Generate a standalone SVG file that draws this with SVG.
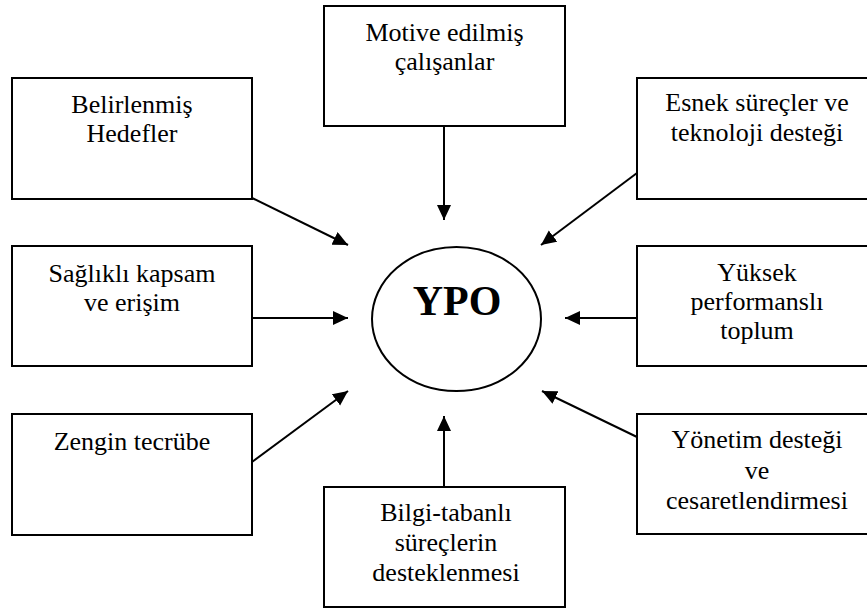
<svg xmlns="http://www.w3.org/2000/svg" width="867" height="610" viewBox="0 0 867 610">
  <style>
    .box { fill: #ffffff; stroke: #000000; stroke-width: 2; }
    .lbl { font-family: 'Liberation Serif', 'DejaVu Serif', serif; font-size: 26px; fill: #000000; text-anchor: middle; }
    .hub { font-family: 'Liberation Serif', 'DejaVu Serif', serif; font-size: 42px; font-weight: bold; fill: #000000; text-anchor: middle; }
    .edge { stroke: #000000; stroke-width: 2; fill: none; marker-end: url(#head); }
  </style>
  <defs>
    <marker id="head" markerUnits="userSpaceOnUse" markerWidth="16" markerHeight="16" refX="15" refY="7" orient="auto">
      <path d="M0,0 L15,7 L0,14 Z" fill="#000000"/>
    </marker>
  </defs>
  <rect width="867" height="610" fill="#ffffff"/>

  <g id="connectors">
    <line class="edge" x1="444" y1="126" x2="444" y2="220"/>
    <line class="edge" x1="252" y1="198" x2="348" y2="245"/>
    <line class="edge" x1="637" y1="173" x2="541" y2="245"/>
    <line class="edge" x1="252" y1="318" x2="348" y2="318"/>
    <line class="edge" x1="637" y1="318" x2="565" y2="318"/>
    <line class="edge" x1="252" y1="462" x2="348" y2="391"/>
    <line class="edge" x1="637" y1="437" x2="542" y2="391"/>
    <line class="edge" x1="444" y1="487" x2="444" y2="416"/>
  </g>

  <g id="ypo">
    <ellipse cx="456.5" cy="319" rx="84.5" ry="72" fill="#ffffff" stroke="#000000" stroke-width="2"/>
    <text class="hub" x="457" y="315" font-family="Liberation Serif, serif">YPO</text>
  </g>

  <g id="motive">
    <rect class="box" x="324" y="6" width="241" height="120"/>
    <text class="lbl" x="444.5" y="41">Motive edilmiş</text>
    <text class="lbl" x="444.5" y="70">çalışanlar</text>
  </g>

  <g id="hedefler">
    <rect class="box" x="12" y="78" width="240" height="121"/>
    <text class="lbl" x="132" y="113">Belirlenmiş</text>
    <text class="lbl" x="132" y="142">Hedefler</text>
  </g>

  <g id="esnek">
    <rect class="box" x="637" y="78" width="240" height="121"/>
    <text class="lbl" x="757" y="111">Esnek süreçler ve</text>
    <text class="lbl" x="757" y="141">teknoloji desteği</text>
  </g>

  <g id="kapsam">
    <rect class="box" x="12" y="246" width="240" height="120"/>
    <text class="lbl" x="132" y="282">Sağlıklı kapsam</text>
    <text class="lbl" x="132" y="311">ve erişim</text>
  </g>

  <g id="toplum">
    <rect class="box" x="637" y="246" width="240" height="120"/>
    <text class="lbl" x="757" y="281">Yüksek</text>
    <text class="lbl" x="757" y="310">performanslı</text>
    <text class="lbl" x="757" y="339">toplum</text>
  </g>

  <g id="tecrube">
    <rect class="box" x="12" y="414" width="240" height="121"/>
    <text class="lbl" x="132" y="450">Zengin tecrübe</text>
  </g>

  <g id="yonetim">
    <rect class="box" x="637" y="414" width="240" height="120"/>
    <text class="lbl" x="757" y="448">Yönetim desteği</text>
    <text class="lbl" x="757" y="479">ve</text>
    <text class="lbl" x="757" y="509">cesaretlendirmesi</text>
  </g>

  <g id="bilgi">
    <rect class="box" x="324" y="487" width="241" height="120"/>
    <text class="lbl" x="446" y="521">Bilgi-tabanlı</text>
    <text class="lbl" x="446" y="551">süreçlerin</text>
    <text class="lbl" x="446" y="581">desteklenmesi</text>
  </g>
</svg>
